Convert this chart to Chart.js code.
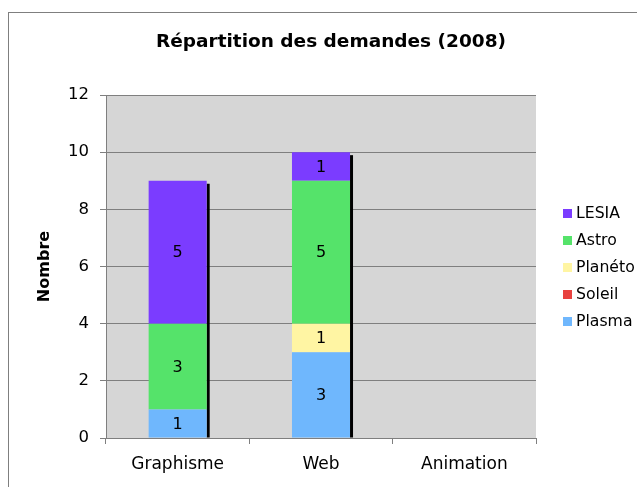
<!DOCTYPE html>
<html>
<head>
<meta charset="utf-8">
<script src="https://cdn.jsdelivr.net/npm/chart.js@4/dist/chart.umd.min.js"></script>
<style>
  html, body { margin: 0; padding: 0; background: #fff; }
  #wrap { position: relative; width: 637px; height: 487px; overflow: hidden; }
  #frame { position: absolute; left: 8px; top: 12px; width: 700px; height: 600px; border: 1px solid #7f7f7f; }
  canvas { position: absolute; left: 0; top: 0; }
</style>
</head>
<body>
<div id="wrap">
  <div id="frame"></div>
  <canvas id="chart" width="637" height="487"></canvas>
</div>
<script>
// Répartition des demandes (2008)
const chartTitle = 'Répartition des demandes (2008)';
const categories = ['Graphisme', 'Web', 'Animation'];
const plasma = [1, 3, 0];
const soleil = [0, 0, 0];
const planeto = [0, 1, 0];
const astro = [3, 5, 0];
const lesia = [5, 1, 0];
const yTicks = [0, 2, 4, 6, 8, 10, 12];

const FONT = 'DejaVu Sans, Verdana, sans-serif';

const series = [
  { label: 'Plasma', data: plasma, color: '#6fb7fd' },
  { label: 'Soleil', data: soleil, color: '#e8413f' },
  { label: 'Planéto', data: planeto, color: '#fff5a3' },
  { label: 'Astro', data: astro, color: '#55e36a' },
  { label: 'LESIA', data: lesia, color: '#7b3cff' },
];

// gray plot background
const plotBg = {
  id: 'plotBg',
  beforeDraw(chart) {
    const { ctx, chartArea: a } = chart;
    ctx.save();
    ctx.fillStyle = '#d6d6d6';
    ctx.fillRect(a.left, a.top, a.right - a.left, a.bottom - a.top);
    ctx.restore();
  },
};

// black drop shadow on the right of each stack + value labels
const barExtras = {
  id: 'barExtras',
  beforeDatasetsDraw(chart) {
    const { ctx } = chart;
    ctx.save();
    ctx.fillStyle = '#000';
    categories.forEach((c, i) => {
      let top = null, right = null, base = null;
      chart.data.datasets.forEach((ds, d) => {
        if (!ds.data[i]) return;
        const el = chart.getDatasetMeta(d).data[i];
        if (top === null || el.y < top) top = el.y;
        right = el.x + el.width / 2;
        base = Math.max(base ?? 0, el.base);
      });
      if (top === null) return;
      ctx.fillRect(right, top + 3, 3, base - top - 3);
    });
    ctx.restore();
  },
  afterDatasetsDraw(chart) {
    const { ctx } = chart;
    ctx.save();
    ctx.font = '16px ' + FONT;
    ctx.fillStyle = '#000';
    ctx.textAlign = 'center';
    ctx.textBaseline = 'middle';
    chart.data.datasets.forEach((ds, d) => {
      chart.getDatasetMeta(d).data.forEach((el, i) => {
        const v = ds.data[i];
        if (!v) return;
        ctx.fillText(String(v), el.x, (el.y + el.base) / 2 + 1);
      });
    });
    ctx.restore();
  },
};

// title + legend on the right, LESIA first
const sideLegend = {
  id: 'sideLegend',
  afterDraw(chart) {
    const { ctx } = chart;
    ctx.save();
    ctx.fillStyle = '#000';
    ctx.textAlign = 'center';
    ctx.textBaseline = 'middle';
    ctx.font = 'bold 18.5px ' + FONT;
    ctx.fillText(chartTitle, 331, 42);

    ctx.textAlign = 'left';
    ctx.font = '15.7px ' + FONT;
    const items = chart.data.datasets.slice().reverse();
    items.forEach((ds, k) => {
      const y = 213 + k * 27;
      ctx.fillStyle = ds.backgroundColor;
      ctx.fillRect(563, y - 4, 9, 9);
      ctx.fillStyle = '#000';
      ctx.fillText(ds.label, 576, y + 1);
    });
    ctx.restore();
  },
};

new Chart(document.getElementById('chart'), {
  type: 'bar',
  data: {
    labels: categories,
    datasets: series.map(s => ({
      label: s.label,
      data: s.data,
      backgroundColor: s.color,
      borderWidth: 0,
      categoryPercentage: 1,
      barPercentage: 0.405,
    })),
  },
  options: {
    responsive: false,
    animation: false,
    devicePixelRatio: 1,
    layout: { padding: { left: 0, right: 101, top: 95, bottom: 0 } },
    plugins: {
      legend: { display: false },
      tooltip: { enabled: false },
      title: { display: false },
    },
    scales: {
      x: {
        stacked: true,
        afterFit(scale) { scale.height = 49; },
        grid: { offset: true, drawOnChartArea: false, color: '#7f7f7f', tickLength: 6 },
        border: { color: '#7f7f7f', width: 1 },
        ticks: { color: '#000', font: { family: FONT, size: 17 }, padding: 10 },
      },
      y: {
        stacked: true,
        min: 0,
        max: 12,
        afterFit(scale) { scale.width = 106; },
        afterBuildTicks(scale) { scale.ticks = yTicks.map(v => ({ value: v })); },
        grid: { color: '#7f7f7f', tickLength: 6 },
        border: { color: '#7f7f7f', width: 1 },
        ticks: { color: '#000', font: { family: FONT, size: 16.5 }, padding: 11 },
        title: {
          display: true,
          text: 'Nombre',
          color: '#000',
          font: { family: FONT, size: 16, weight: 'bold' },
          padding: { top: 35, bottom: 0 },
        },
      },
    },
  },
  plugins: [plotBg, barExtras, sideLegend],
});
</script>
</body>
</html>
